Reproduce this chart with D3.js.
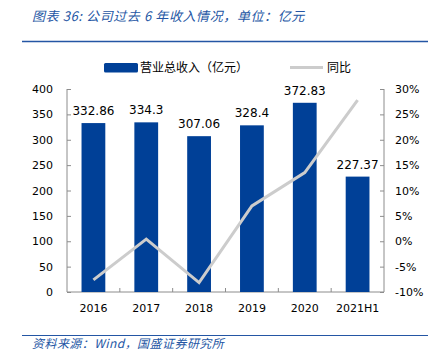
<!DOCTYPE html>
<html><head><meta charset="utf-8">
<script src="https://cdn.jsdelivr.net/npm/d3@7"></script>
<style>body{margin:0;background:#fff}svg{display:block}</style>
</head><body>
<svg id="c" width="434" height="358"></svg>
<script>
const categories = ["2016","2017","2018","2019","2020","2021H1"];
const revenue = [332.86, 334.3, 307.06, 328.4, 372.83, 227.37];
const revenueLabels = ["332.86","334.3","307.06","328.4","372.83","227.37"];
const growth = [-7.6, 0.43, -8.15, 6.95, 13.53, 27.8];
const leftTicks = [0,50,100,150,200,250,300,350,400];
const rightTicks = [-10,-5,0,5,10,15,20,25,30];

const svg = d3.select("#c");
const L = 67, R = 384, T = 89, B = 292;
const font = "DejaVu Sans";
const cjk = "'Noto Sans CJK SC', sans-serif";
const blue = "#004097";
const axisCol = "#8c8c8c";

// Title
svg.append("text").attr("x", 32).attr("y", 21).attr("font-family", cjk)
  .attr("font-size", 13).attr("font-style", "italic").attr("fill", "#2456a4")
  .attr("letter-spacing", 0.6)
  .text("图表 36:  公司过去 6 年收入情况，单位：亿元");
svg.append("line").attr("x1", 22).attr("x2", 428).attr("y1", 41.5).attr("y2", 41.5)
  .attr("stroke", "#2456a4").attr("stroke-width", 1.5);

// Footer
svg.append("line").attr("x1", 22).attr("x2", 428).attr("y1", 335.5).attr("y2", 335.5)
  .attr("stroke", "#2456a4").attr("stroke-width", 1.2);
svg.append("text").attr("x", 32).attr("y", 348).attr("font-family", cjk)
  .attr("font-size", 12).attr("font-style", "italic").attr("fill", "#2456a4")
  .attr("letter-spacing", 0.45)
  .text("资料来源：Wind，国盛证券研究所");

const x = d3.scaleBand().domain(categories).range([L, R]).paddingInner(0.55).paddingOuter(0.275);
const yL = d3.scaleLinear().domain([0, 400]).range([B, T]);
const yR = d3.scaleLinear().domain([-10, 30]).range([B, T]);

// Axes
const gL = svg.append("g").attr("transform", `translate(${L},0)`)
  .call(d3.axisRight(yL).tickValues(leftTicks).tickSize(4).tickFormat(d3.format("d")));
gL.selectAll("text").attr("x", -14).attr("text-anchor", "end");
const gR = svg.append("g").attr("transform", `translate(${R},0)`)
  .call(d3.axisLeft(yR).tickValues(rightTicks).tickSize(4).tickFormat(d => d + "%"));
gR.selectAll("text").attr("x", 11).attr("text-anchor", "start");
const step = x.step();
const bounds = d3.range(categories.length + 1).map(i => L + i * step);
const gB = svg.append("g").attr("transform", `translate(0,${B})`)
  .call(d3.axisBottom(x).tickSize(0).tickPadding(12));
gB.selectAll(".tick").attr("transform", d => `translate(${x(d) + x.bandwidth() / 2},0)`);
svg.append("g").selectAll("line").data(bounds.slice(1, -1)).join("line")
  .attr("x1", d => d).attr("x2", d => d).attr("y1", B).attr("y2", B - 4).attr("stroke", axisCol);
[gL, gR, gB].forEach(g => {
  g.selectAll("path,line").attr("stroke", axisCol);
  g.selectAll("text").attr("font-family", font).attr("font-size", 11).attr("fill", "#000");
});
gL.select(".domain").attr("d", `M0,${T}V${B}`);
gR.select(".domain").attr("d", `M0,${T}V${B}`);
gB.select(".domain").attr("d", `M${L},0H${R}`);

// Bars
svg.append("g").selectAll("rect").data(categories).join("rect")
  .attr("x", d => x(d)).attr("width", x.bandwidth())
  .attr("y", (d, i) => yL(revenue[i])).attr("height", (d, i) => B - yL(revenue[i]))
  .attr("fill", blue);

svg.append("g").selectAll("text").data(categories).join("text")
  .attr("x", d => x(d) + x.bandwidth() / 2).attr("y", (d, i) => yL(revenue[i]) - 8)
  .attr("text-anchor", "middle").attr("font-family", font).attr("font-size", 12).attr("fill", "#000")
  .text((d, i) => revenueLabels[i]);

// Line
const line = d3.line().x((d, i) => x(categories[i]) + x.bandwidth() / 2).y(d => yR(d));
svg.append("path").datum(growth).attr("d", line).attr("fill", "none")
  .attr("stroke", "#cccccc").attr("stroke-width", 3);

// Legend
svg.append("rect").attr("x", 104).attr("y", 63).attr("width", 34).attr("height", 9.5).attr("rx", 1.5).attr("fill", blue);
svg.append("text").attr("x", 140).attr("y", 72).attr("font-family", cjk).attr("font-size", 12).attr("fill", "#000")
  .text("营业总收入（亿元）");
svg.append("line").attr("x1", 290).attr("x2", 323).attr("y1", 67.5).attr("y2", 67.5).attr("stroke", "#cccccc").attr("stroke-width", 3);
svg.append("text").attr("x", 327).attr("y", 72).attr("font-family", cjk).attr("font-size", 12).attr("fill", "#000")
  .text("同比");
</script>
</body></html>
